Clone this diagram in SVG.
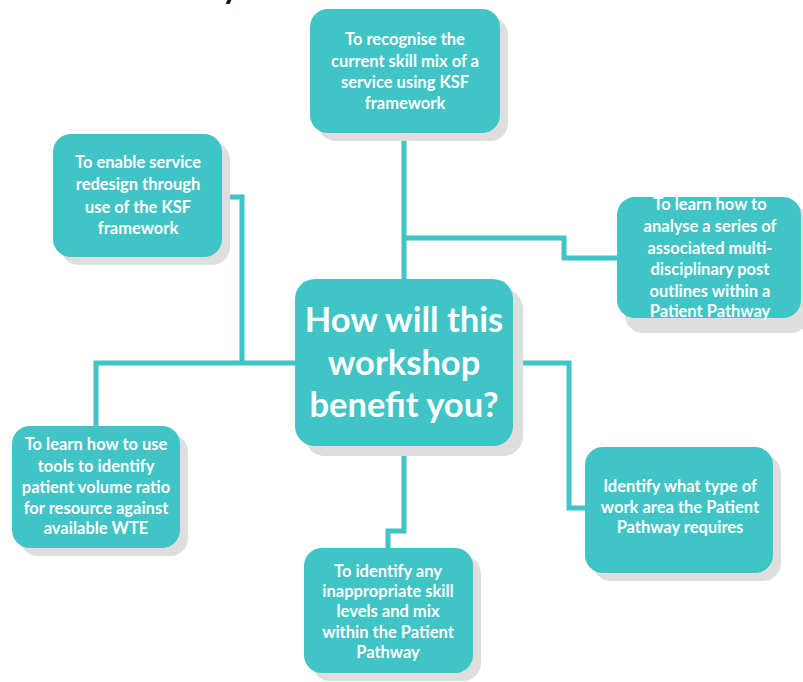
<svg xmlns="http://www.w3.org/2000/svg" width="803" height="682" viewBox="0 0 803 682">
<style>
.shadow{fill:#dedede}
.box{fill:#41c4c5}
.conn{fill:none;stroke:#41c4c5;stroke-width:5;stroke-linejoin:miter}
.t{font-family:Lato,"Open Sans","Liberation Sans",sans-serif;font-weight:700;font-size:16.5px;fill:#ffffff;text-anchor:middle}
.big{font-family:Lato,"Open Sans","Liberation Sans",sans-serif;font-weight:700;font-size:34.5px;fill:#ffffff;text-anchor:middle}
.title{font-family:Lato,"Liberation Sans",sans-serif;font-weight:700;font-size:32px;fill:#111111}
</style>
<rect width="803" height="682" fill="#ffffff"/>
<text class="title" x="222" y="-1">y</text>
<g id="connectors">
<path class="conn" d="M404,133 V279"/>
<path class="conn" d="M404,238 H564 V258 H617"/>
<path class="conn" d="M222,197 H242 V363"/>
<path class="conn" d="M295,363 H96 V426"/>
<path class="conn" d="M513,363 H569 V508 H585"/>
<path class="conn" d="M404,446 V531 H388 V548"/>
</g>
<g id="node-top">
<rect class="shadow" x="318" y="17" width="190" height="124" rx="18"/>
<rect class="box" x="310" y="9" width="190" height="124" rx="18"/>
<text class="t" x="405" y="45">To recognise the</text>
<text class="t" x="405" y="67">current skill mix of a</text>
<text class="t" x="405" y="88">service using KSF</text>
<text class="t" x="405" y="109">framework</text>
</g>
<g id="node-left-top">
<rect class="shadow" x="61" y="142" width="169" height="123" rx="18"/>
<rect class="box" x="53" y="134" width="169" height="123" rx="18"/>
<text class="t" x="138" y="168">To enable service</text>
<text class="t" x="138" y="190">redesign through</text>
<text class="t" x="138" y="213">use of the KSF</text>
<text class="t" x="138" y="234">framework</text>
</g>
<g id="node-right">
<rect class="shadow" x="625" y="205" width="184" height="128" rx="18"/>
<rect class="box" x="617" y="197" width="184" height="121" rx="18"/>
<text class="t" x="710" y="210">To learn how to</text>
<text class="t" x="710" y="232">analyse a series of</text>
<text class="t" x="710" y="254">associated multi-</text>
<text class="t" x="710" y="275">disciplinary post</text>
<text class="t" x="710" y="297">outlines within a</text>
<text class="t" x="710" y="317">Patient Pathway</text>
</g>
<g id="node-center">
<rect class="shadow" x="305" y="289" width="218" height="167" rx="20"/>
<rect class="box" x="295" y="279" width="218" height="167" rx="20"/>
<text class="big" x="404" y="332">How will this</text>
<text class="big" x="404" y="375">workshop</text>
<text class="big" x="404" y="417">benefit you?</text>
</g>
<g id="node-left-bottom">
<rect class="shadow" x="20" y="434" width="168" height="122" rx="18"/>
<rect class="box" x="12" y="426" width="168" height="122" rx="18"/>
<text class="t" x="96" y="450">To learn how to use</text>
<text class="t" x="96" y="472">tools to identify</text>
<text class="t" x="96" y="493">patient volume ratio</text>
<text class="t" x="96" y="514">for resource against</text>
<text class="t" x="96" y="534">available WTE</text>
</g>
<g id="node-bottom">
<rect class="shadow" x="312" y="556" width="169" height="125" rx="18"/>
<rect class="box" x="304" y="548" width="169" height="125" rx="18"/>
<text class="t" x="388" y="577">To identify any</text>
<text class="t" x="388" y="597">inappropriate skill</text>
<text class="t" x="388" y="617">levels and mix</text>
<text class="t" x="388" y="638">within the Patient</text>
<text class="t" x="388" y="658">Pathway</text>
</g>
<g id="node-right-bottom">
<rect class="shadow" x="593" y="455" width="188" height="126" rx="18"/>
<rect class="box" x="585" y="447" width="188" height="126" rx="18"/>
<text class="t" x="680" y="492">Identify what type of</text>
<text class="t" x="680" y="513">work area the Patient</text>
<text class="t" x="680" y="533">Pathway requires</text>
</g>
</svg>
